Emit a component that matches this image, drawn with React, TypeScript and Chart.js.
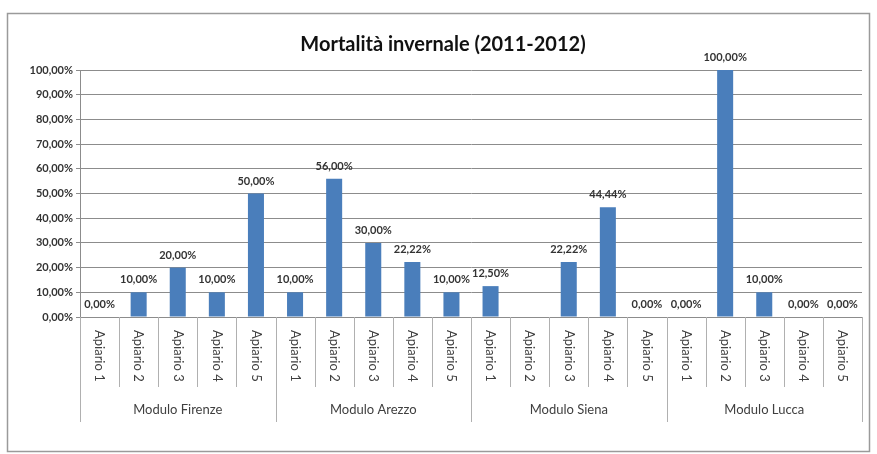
import React, { useEffect, useRef } from "react";
import { Chart, registerables } from "chart.js";

Chart.register(...registerables);

const modules = ["Modulo Firenze", "Modulo Arezzo", "Modulo Siena", "Modulo Lucca"];
const apiari = ["Apiario 1", "Apiario 2", "Apiario 3", "Apiario 4", "Apiario 5"];
const firenze = [0, 10, 20, 10, 50];
const arezzo = [10, 56, 30, 22.22, 10];
const siena = [12.5, null, 22.22, 44.44, 0];
const lucca = [0, 100, 10, 0, 0];
const yTicks = [0, 10, 20, 30, 40, 50, 60, 70, 80, 90, 100];
const title = "Mortalità invernale (2011-2012)";

const FONT = "Lato, 'Open Sans', sans-serif";

function fmt(v: number): string {
  return v.toFixed(2).replace(".", ",") + "%";
}

export default function App() {
  const ref = useRef<HTMLCanvasElement | null>(null);

  useEffect(() => {
    document.body.style.margin = "0";
    const canvas = ref.current;
    if (!canvas) return;

    const labels: string[] = [];
    modules.forEach((m) => apiari.forEach((a) => labels.push(m + "|" + a)));
    const values = [...firenze, ...arezzo, ...siena, ...lucca];

    const custom = {
      id: "custom",
      beforeDraw(chart: any) {
        const ctx = chart.ctx;
        ctx.save();
        ctx.fillStyle = "#ffffff";
        ctx.fillRect(0, 0, chart.width, chart.height);
        ctx.strokeStyle = "#9a9a9a";
        ctx.lineWidth = 1.5;
        ctx.strokeRect(7.5, 13.5, 862, 438);
        ctx.restore();
      },
      afterDraw(chart: any) {
        const ctx = chart.ctx;
        const xs = chart.scales.x;
        const area = chart.chartArea;
        const n = labels.length;
        const step = (area.right - area.left) / n;
        ctx.save();
        // title
        ctx.fillStyle = "#111111";
        ctx.font = `bold 20px ${FONT}`;
        ctx.textAlign = "center";
        ctx.textBaseline = "middle";
        ctx.fillText(title, 443, 45);

        // category ticks
        ctx.strokeStyle = "#b0b0b0";
        ctx.lineWidth = 1;
        for (let i = 0; i <= n; i++) {
          const x = Math.round(area.left + i * step) + 0.5;
          const long = i % apiari.length === 0;
          ctx.beginPath();
          ctx.moveTo(x, area.bottom);
          ctx.lineTo(x, long ? area.bottom + 105 : area.bottom + 70);
          ctx.stroke();
        }
        // apiario labels
        ctx.fillStyle = "#404040";
        ctx.font = `13px ${FONT}`;
        ctx.textAlign = "left";
        ctx.textBaseline = "middle";
        for (let i = 0; i < n; i++) {
          const cx = xs.getPixelForValue(i);
          ctx.save();
          ctx.translate(cx, area.bottom + 13);
          ctx.rotate(Math.PI / 2);
          ctx.fillText(labels[i].split("|")[1], 0, 0);
          ctx.restore();
        }
        // module labels
        ctx.font = `13px ${FONT}`;
        ctx.textAlign = "center";
        modules.forEach((m, g) => {
          const cx = area.left + (g * apiari.length + apiari.length / 2) * step;
          ctx.fillText(m, cx, area.bottom + 93);
        });

        // data labels
        const meta = chart.getDatasetMeta(0);
        ctx.fillStyle = "#333333";
        ctx.font = `bold 11px ${FONT}`;
        ctx.textAlign = "center";
        ctx.textBaseline = "bottom";
        meta.data.forEach((el: any, i: number) => {
          const v = values[i];
          if (v === null || v === undefined) return;
          ctx.fillText(fmt(v as number), el.x, el.y - 7);
        });
        ctx.restore();
      },
    };

    const chart = new Chart(canvas, {
      type: "bar",
      data: {
        labels,
        datasets: [
          {
            data: values,
            backgroundColor: "#4a7ebb",
            borderWidth: 0,
            categoryPercentage: 1,
            barPercentage: 0.41,
          },
        ],
      },
      options: {
        animation: false,
        responsive: false,
        maintainAspectRatio: false,
        layout: { padding: { left: 0, top: 70, right: 15, bottom: 137 } },
        plugins: {
          legend: { display: false },
          title: { display: false },
          tooltip: { enabled: false },
        },
        scales: {
          x: { display: false },
          y: {
            min: 0,
            max: 100,
            afterFit(scale: any) {
              scale.width = 80;
            },
            afterBuildTicks(scale: any) {
              scale.ticks = yTicks.map((v) => ({ value: v }));
            },
            ticks: {
              callback: (v: any) => fmt(Number(v)),
              color: "#333333",
              font: { family: FONT, size: 11, weight: "bold" },
              padding: 3,
            },
            grid: { color: "#8c8c8c", lineWidth: 1, tickLength: 4 },
            border: { color: "#8c8c8c" },
          },
        },
      },
      plugins: [custom],
    });
    return () => chart.destroy();
  }, []);

  return (
    <div style={{ width: 877, height: 454 }}>
      <canvas ref={ref} width={877} height={454} style={{ display: "block" }} />
    </div>
  );
}
